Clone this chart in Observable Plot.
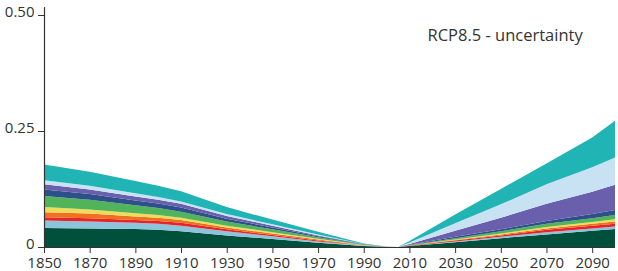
<!DOCTYPE html>
<html>
<head>
<meta charset="utf-8">
<script src="https://cdn.jsdelivr.net/npm/d3@7"></script>
<script src="https://cdn.jsdelivr.net/npm/@observablehq/plot@0.6"></script>
<style>
  html, body { margin: 0; padding: 0; background: #fff; }
  #chart { position: relative; width: 618px; height: 271px; }
  svg { display: block; }
</style>
</head>
<body>
<div id="chart"></div>
<script>
const years  = [1850, 1870, 1890, 1900, 1910, 1930, 1950, 1970, 1990, 2000, 2005, 2010, 2030, 2050, 2070, 2090, 2100];
const layerNames = ["l1", "l2", "l3", "l4", "l5", "l6", "l7", "l8", "l9", "l10"];
const layerColors = ["#00503c", "#8cc4dc", "#e8242a", "#ee7020", "#f0dc5a", "#52b45a", "#2c5088", "#6a5fac", "#c8e2f4", "#20b4b4"];
const l1  = [.041, .040, .039, .037, .034, .025, .017, .009, .002,  .0003, 0, .002,  .010, .019, .027, .035, .039];
const l2  = [.016, .015, .013, .013, .012, .009, .006, .003, .001,  .0001, 0, .0004, .002, .003, .005, .005, .005];
const l3  = [.007, .007, .006, .006, .006, .004, .003, .002, .0005, .0001, 0, .0005, .002, .003, .005, .006, .006];
const l4  = [.011, .010, .008, .007, .006, .004, .003, .002, .0005, 0,     0, .0003, .001, .002, .003, .004, .005];
const l5  = [.011, .009, .007, .006, .005, .004, .003, .002, .0004, 0,     0, .0003, .001, .002, .003, .004, .005];
const l6  = [.024, .021, .017, .015, .013, .009, .006, .003, .0008, .0001, 0, .0006, .003, .005, .007, .008, .009];
const l7  = [.014, .012, .010, .010, .009, .006, .004, .002, .0005, .0001, 0, .0006, .003, .004, .006, .009, .011];
const l8  = [.011, .010, .009, .008, .008, .006, .004, .002, .0005, .0001, 0, .002,  .013, .025, .037, .048, .054];
const l9  = [.009, .008, .007, .006, .005, .004, .003, .002, .0005, .0001, 0, .003,  .016, .029, .042, .053, .059];
const l10 = [.034, .030, .026, .024, .022, .015, .010, .006, .001,  .0003, 0, .003,  .019, .033, .045, .064, .079];
const xTicks = [1850, 1870, 1890, 1910, 1930, 1950, 1970, 1990, 2010, 2030, 2050, 2070, 2090];
const yTicks = [0, 0.25, 0.5];
const yTickLabels = ["0", "0.25", "0.50"];
const label = "RCP8.5 - uncertainty";

const series = [l1, l2, l3, l4, l5, l6, l7, l8, l9, l10];
const data = [];
series.forEach((vals, i) => {
  vals.forEach((v, j) => data.push({year: years[j], value: v, layer: layerNames[i]}));
});
const yLabelData = yTicks.map((v, i) => ({value: v, text: yTickLabels[i]}));

const font = "'Open Sans', 'Noto Sans', sans-serif";
const chart = Plot.plot({
  width: 618,
  height: 271,
  marginLeft: 44,
  marginRight: 3,
  marginTop: 15,
  marginBottom: 24,
  style: {fontFamily: font, fontSize: "15px", color: "#333", background: "#fff"},
  x: {domain: [1850, 2100], ticks: xTicks, tickFormat: d => String(d), tickSize: 6, tickPadding: 3.5, label: null},
  y: {domain: [0, 0.5], ticks: yTicks, tickFormat: () => "", tickSize: 6, label: null},
  color: {domain: layerNames, range: layerColors},
  marks: [
    Plot.areaY(data, {x: "year", y: "value", z: "layer", fill: "layer"}),
    Plot.text(yLabelData, {x: 1850, y: "value", text: "text", dx: -10, dy: -3.5, textAnchor: "end", fontSize: 15, fill: "#333", clip: false}),
    Plot.ruleX([1850], {y1: 0, y2: 0.517, stroke: "#333", strokeWidth: 1.2, clip: false}),
    Plot.ruleY([0], {x1: 1850, x2: 2100, stroke: "#333", strokeWidth: 1.2}),
    Plot.text([label], {frameAnchor: "top-left", dx: 383, dy: 14, textAnchor: "start", fontSize: 16.5, fill: "#333"})
  ]
});
document.getElementById("chart").appendChild(chart);
</script>
</body>
</html>
